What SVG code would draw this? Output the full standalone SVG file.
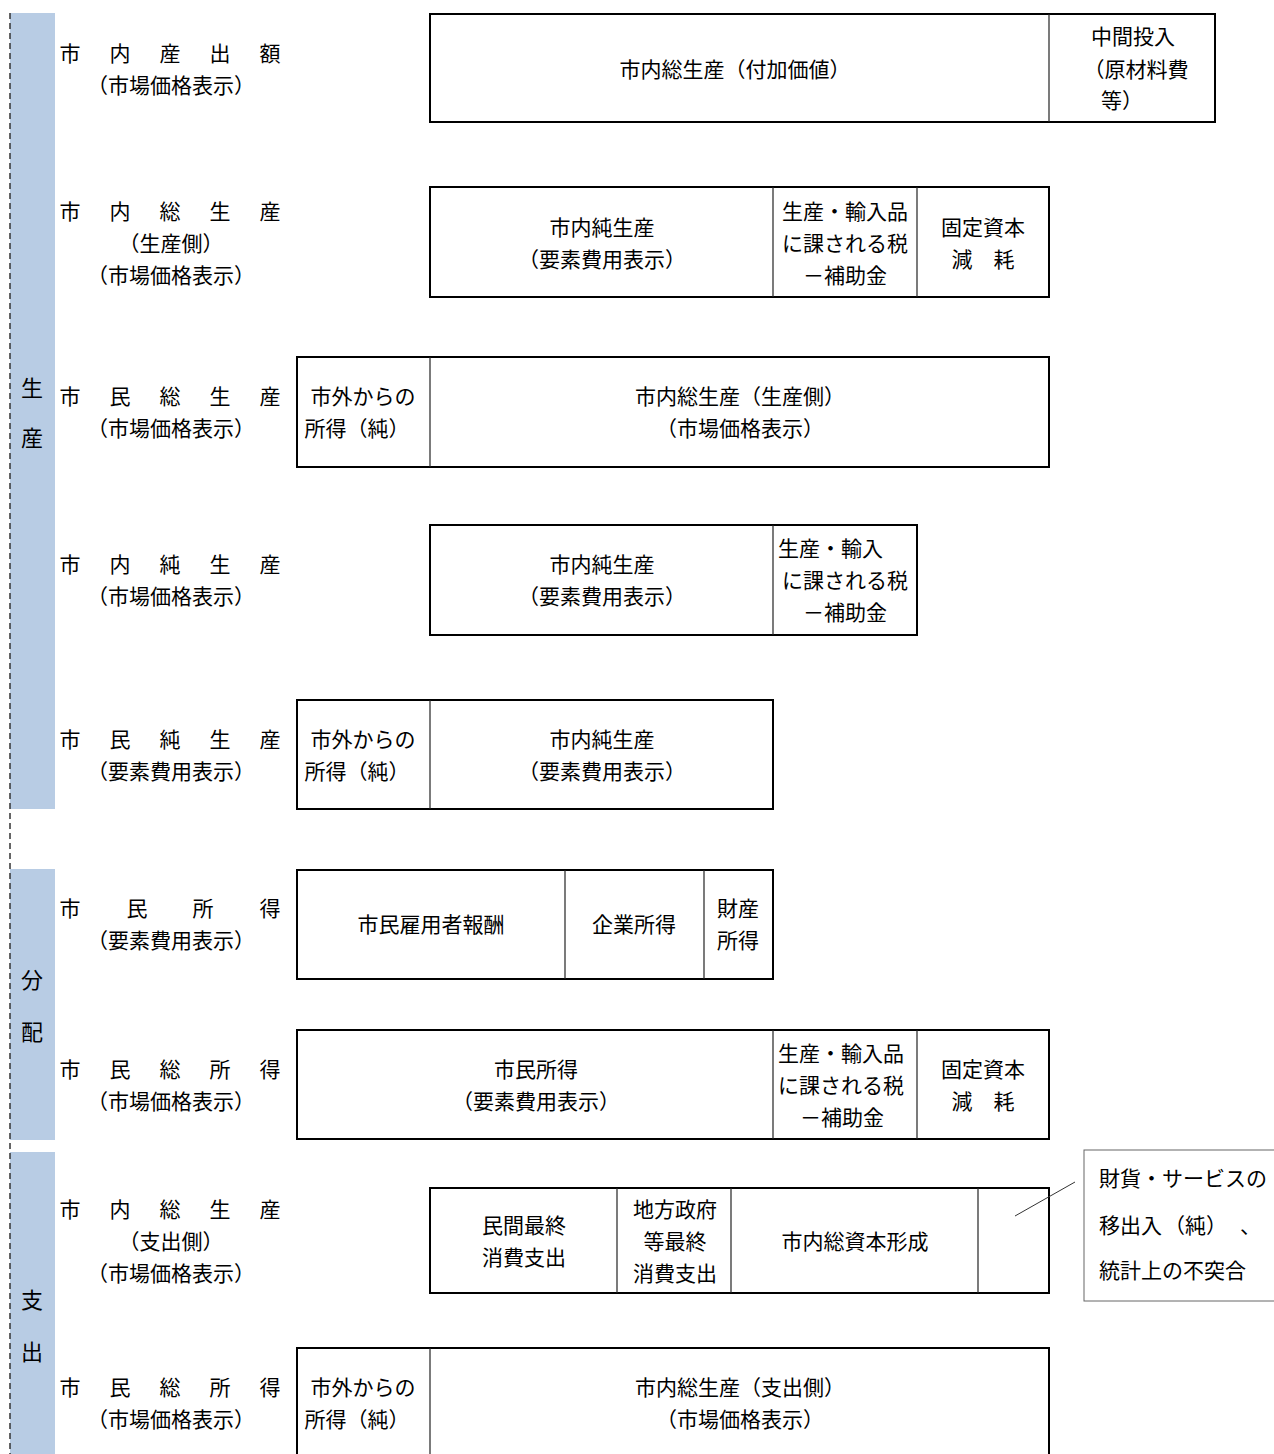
<svg xmlns="http://www.w3.org/2000/svg" width="1274" height="1454" viewBox="0 0 1274 1454">
<style>
text{font-family:"Noto Sans CJK JP","Noto Sans CJK SC",sans-serif;font-size:21px;fill:#000;}
.c{text-anchor:middle;}
.lbl{font-size:21px;text-anchor:middle;}
.side{font-size:22px;text-anchor:middle;}
.outer{fill:#fff;stroke:#000;stroke-width:2;}
.div{stroke:#222;stroke-width:1.2;fill:none;}
.bar{fill:#B8CCE4;}
.callout{fill:#fff;stroke:#666;stroke-width:1;}
</style>
<rect width="1274" height="1454" fill="#fff"/>
<g id="sidebars">
<rect class="bar" x="10" y="13" width="45" height="796"/>
<rect class="bar" x="10" y="869" width="45" height="271"/>
<rect class="bar" x="10" y="1152" width="45" height="302"/>
<line x1="10" y1="13" x2="10" y2="1454" stroke="#333" stroke-width="1.5" stroke-dasharray="6,4"/>
<text class="side" x="32" y="396">生</text>
<text class="side" x="32" y="446">産</text>
<text class="side" x="32" y="988">分</text>
<text class="side" x="32" y="1040">配</text>
<text class="side" x="32" y="1308">支</text>
<text class="side" x="32" y="1360">出</text>
</g>
<g id="labels">
<text class="lbl" x="70 120 170 220 270" y="61">市内産出額</text>
<text class="c" x="171" y="93">（市場価格表示）</text>
<text class="lbl" x="70 120 170 220 270" y="219">市内総生産</text>
<text class="c" x="171" y="251">（生産側）</text>
<text class="c" x="171" y="283">（市場価格表示）</text>
<text class="lbl" x="70 120 170 220 270" y="404">市民総生産</text>
<text class="c" x="171" y="436">（市場価格表示）</text>
<text class="lbl" x="70 120 170 220 270" y="572">市内純生産</text>
<text class="c" x="171" y="604">（市場価格表示）</text>
<text class="lbl" x="70 120 170 220 270" y="747">市民純生産</text>
<text class="c" x="171" y="779">（要素費用表示）</text>
<text class="lbl" x="70 137 203 270" y="916">市民所得</text>
<text class="c" x="171" y="948">（要素費用表示）</text>
<text class="lbl" x="70 120 170 220 270" y="1077">市民総所得</text>
<text class="c" x="171" y="1109">（市場価格表示）</text>
<text class="lbl" x="70 120 170 220 270" y="1217">市内総生産</text>
<text class="c" x="171" y="1249">（支出側）</text>
<text class="c" x="171" y="1281">（市場価格表示）</text>
<text class="lbl" x="70 120 170 220 270" y="1395">市民総所得</text>
<text class="c" x="171" y="1427">（市場価格表示）</text>
</g>
<g id="row1">
<rect class="outer" x="430" y="14" width="785" height="108"/>
<line class="div" x1="1049" y1="14" x2="1049" y2="122"/>
<text class="c" x="735" y="77">市内総生産（付加価値）</text>
<text class="c" x="1133" y="44">中間投入</text>
<text class="c" x="1136" y="77">（原材料費</text>
<text class="c" x="1122" y="108">等）</text>
</g>
<g id="row2">
<rect class="outer" x="430" y="187" width="619" height="110"/>
<line class="div" x1="773" y1="187" x2="773" y2="297"/>
<line class="div" x1="917" y1="187" x2="917" y2="297"/>
<text class="c" x="602" y="235">市内純生産</text>
<text class="c" x="602" y="267">（要素費用表示）</text>
<text class="c" x="845" y="219">生産・輸入品</text>
<text class="c" x="845" y="251">に課される税</text>
<text class="c" x="845" y="283">－補助金</text>
<text class="c" x="983" y="235">固定資本</text>
<text class="c" x="983" y="267">減　耗</text>
</g>
<g id="row3">
<rect class="outer" x="297" y="357" width="752" height="110"/>
<line class="div" x1="430" y1="357" x2="430" y2="467"/>
<text class="c" x="363" y="404">市外からの</text>
<text class="c" x="357" y="436">所得（純）</text>
<text class="c" x="740" y="404">市内総生産（生産側）</text>
<text class="c" x="740" y="436">（市場価格表示）</text>
</g>
<g id="row4">
<rect class="outer" x="430" y="525" width="487" height="110"/>
<line class="div" x1="773" y1="525" x2="773" y2="635"/>
<text class="c" x="602" y="572">市内純生産</text>
<text class="c" x="602" y="604">（要素費用表示）</text>
<text x="778" y="556">生産・輸入</text>
<text class="c" x="845" y="588">に課される税</text>
<text class="c" x="845" y="620">－補助金</text>
</g>
<g id="row5">
<rect class="outer" x="297" y="700" width="476" height="109"/>
<line class="div" x1="430" y1="700" x2="430" y2="809"/>
<text class="c" x="363" y="747">市外からの</text>
<text class="c" x="357" y="779">所得（純）</text>
<text class="c" x="602" y="747">市内純生産</text>
<text class="c" x="602" y="779">（要素費用表示）</text>
</g>
<g id="row6">
<rect class="outer" x="297" y="870" width="476" height="109"/>
<line class="div" x1="565" y1="870" x2="565" y2="979"/>
<line class="div" x1="704" y1="870" x2="704" y2="979"/>
<text class="c" x="431" y="932">市民雇用者報酬</text>
<text class="c" x="634" y="932">企業所得</text>
<text class="c" x="738" y="916">財産</text>
<text class="c" x="738" y="948">所得</text>
</g>
<g id="row7">
<rect class="outer" x="297" y="1030" width="752" height="109"/>
<line class="div" x1="773" y1="1030" x2="773" y2="1139"/>
<line class="div" x1="917" y1="1030" x2="917" y2="1139"/>
<text class="c" x="536" y="1077">市民所得</text>
<text class="c" x="536" y="1109">（要素費用表示）</text>
<text x="778" y="1061">生産・輸入品</text>
<text x="778" y="1093">に課される税</text>
<text x="800" y="1125">－補助金</text>
<text class="c" x="983" y="1077">固定資本</text>
<text class="c" x="983" y="1109">減　耗</text>
</g>
<g id="row8">
<rect class="outer" x="430" y="1188" width="619" height="105"/>
<line class="div" x1="617" y1="1188" x2="617" y2="1293"/>
<line class="div" x1="731" y1="1188" x2="731" y2="1293"/>
<line class="div" x1="978" y1="1188" x2="978" y2="1293"/>
<text class="c" x="524" y="1233">民間最終</text>
<text class="c" x="524" y="1265">消費支出</text>
<text class="c" x="675" y="1217">地方政府</text>
<text class="c" x="675" y="1249">等最終</text>
<text class="c" x="675" y="1281">消費支出</text>
<text class="c" x="855" y="1249">市内総資本形成</text>
</g>
<g id="callout">
<rect class="callout" x="1084" y="1150" width="200" height="151"/>
<text x="1099" y="1186">財貨・サービスの</text>
<text y="1233"><tspan x="1099">移出入</tspan><tspan x="1164">（純）</tspan><tspan x="1240">、</tspan></text>
<text x="1099" y="1278">統計上の不突合</text>
</g>
<g id="row9">
<rect class="outer" x="297" y="1348" width="752" height="115"/>
<line class="div" x1="430" y1="1348" x2="430" y2="1454"/>
<text class="c" x="363" y="1395">市外からの</text>
<text class="c" x="357" y="1427">所得（純）</text>
<text class="c" x="740" y="1395">市内総生産（支出側）</text>
<text class="c" x="740" y="1427">（市場価格表示）</text>
</g>
<g id="connectors">
<line x1="1015" y1="1216" x2="1075" y2="1182" stroke="#333" stroke-width="1"/>
</g>
</svg>
